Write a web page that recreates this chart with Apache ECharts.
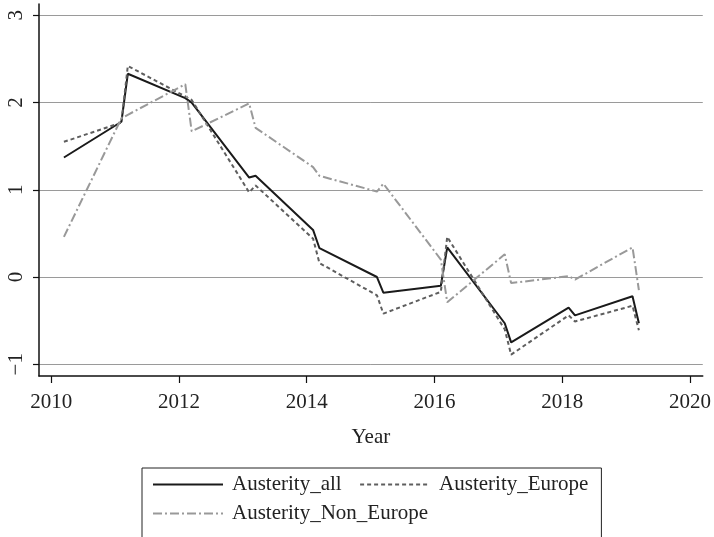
<!DOCTYPE html>
<html><head><meta charset="utf-8">
<script src="https://cdn.jsdelivr.net/npm/echarts@6/dist/echarts.min.js"></script>
<style>html,body{margin:0;padding:0;background:#fff}#c{width:714px;height:537px}</style>
</head><body><div id="c"></div>
<script>
const years = [2010.2, 2011.1, 2011.2, 2012.1, 2012.2, 2013.1, 2013.2, 2014.1, 2014.2, 2015.1, 2015.2, 2016.1, 2016.2, 2017.1, 2017.2, 2018.1, 2018.2, 2019.1, 2019.2];
const austerityAll = [1.37, 1.78, 2.33, 2.05, 2.0, 1.14, 1.16, 0.54, 0.33, 0.0, -0.18, -0.10, 0.34, -0.53, -0.75, -0.35, -0.44, -0.22, -0.53];
const austerityEurope = [1.55, 1.77, 2.42, 2.07, 2.03, 0.97, 1.05, 0.44, 0.16, -0.21, -0.42, -0.17, 0.46, -0.60, -0.89, -0.44, -0.51, -0.33, -0.61];
const austerityNonEurope = [0.46, 1.82, 1.86, 2.21, 1.67, 1.99, 1.71, 1.26, 1.16, 0.98, 1.07, 0.20, -0.29, 0.26, -0.07, 0.01, -0.03, 0.34, -0.15];
const xTicks = [2010, 2012, 2014, 2016, 2018, 2020];
const yTicks = [-1, 0, 1, 2, 3];
const seriesNames = ['Austerity_all', 'Austerity_Europe', 'Austerity_Non_Europe'];

const FONT = 'Liberation Serif';
const FS = 21;
const pair = arr => years.map((x, i) => [x, arr[i]]);
const chart = echarts.init(document.getElementById('c'), null, {renderer: 'canvas'});
chart.setOption({
  animation: false,
  backgroundColor: '#fff',
  textStyle: {fontFamily: FONT},
  grid: {left: 39, right: 8, top: 4, bottom: 161, containLabel: false},
  xAxis: {
    type: 'value', min: 2009.81, max: 2020.2,
    name: 'Year', nameLocation: 'middle', nameGap: 51,
    nameTextStyle: {fontFamily: FONT, fontSize: FS, color: '#222'},
    axisLine: {show: true, onZero: false, lineStyle: {color: '#111', width: 1.5}},
    axisTick: {show: true, length: 7, customValues: xTicks, lineStyle: {color: '#111', width: 1.2}},
    axisLabel: {customValues: xTicks, margin: 16, fontFamily: FONT, fontSize: FS, color: '#222',
      formatter: v => String(v)},
    splitLine: {show: false}
  },
  yAxis: {
    type: 'value', min: -1.135, max: 3.13,
    axisLine: {show: true, onZero: false, lineStyle: {color: '#111', width: 1.5}},
    axisTick: {show: true, length: 6, customValues: yTicks, lineStyle: {color: '#111', width: 1.2}},
    axisLabel: {customValues: yTicks, rotate: 90, margin: 12, fontFamily: FONT, fontSize: FS, color: '#222',
      formatter: v => String(v).replace('-', '\u2212')},
    splitLine: {show: true, lineStyle: {color: '#9a9a9a', width: 1}}
  },
  legend: {
    show: true,
    data: seriesNames,
    left: 142, top: 468, width: 470,
    orient: 'horizontal',
    itemWidth: 70, itemHeight: 11, itemGap: 8,
    padding: [6, 13, 40, 10],
    borderColor: '#222', borderWidth: 1,
    itemStyle: {opacity: 0},
    formatter: name => name === seriesNames[0] ? name + '\u00a0\u2009' : name,
    textStyle: {fontFamily: FONT, fontSize: FS, color: '#222', padding: [0, 0, 0, 4]}
  },
  series: [
    {name: seriesNames[0], type: 'line', data: pair(austerityAll), showSymbol: false, symbol: 'none',
      lineStyle: {color: '#1a1a1a', width: 2, type: 'solid'}, itemStyle: {color: '#1a1a1a'}},
    {name: seriesNames[1], type: 'line', data: pair(austerityEurope), showSymbol: false, symbol: 'none',
      lineStyle: {color: '#5e5e5e', width: 2, type: [4, 3]}, itemStyle: {color: '#5e5e5e'}},
    {name: seriesNames[2], type: 'line', data: pair(austerityNonEurope), showSymbol: false, symbol: 'none',
      lineStyle: {color: '#999999', width: 2, type: [9, 3, 2, 3]}, itemStyle: {color: '#999999'}}
  ]
});
</script></body></html>
